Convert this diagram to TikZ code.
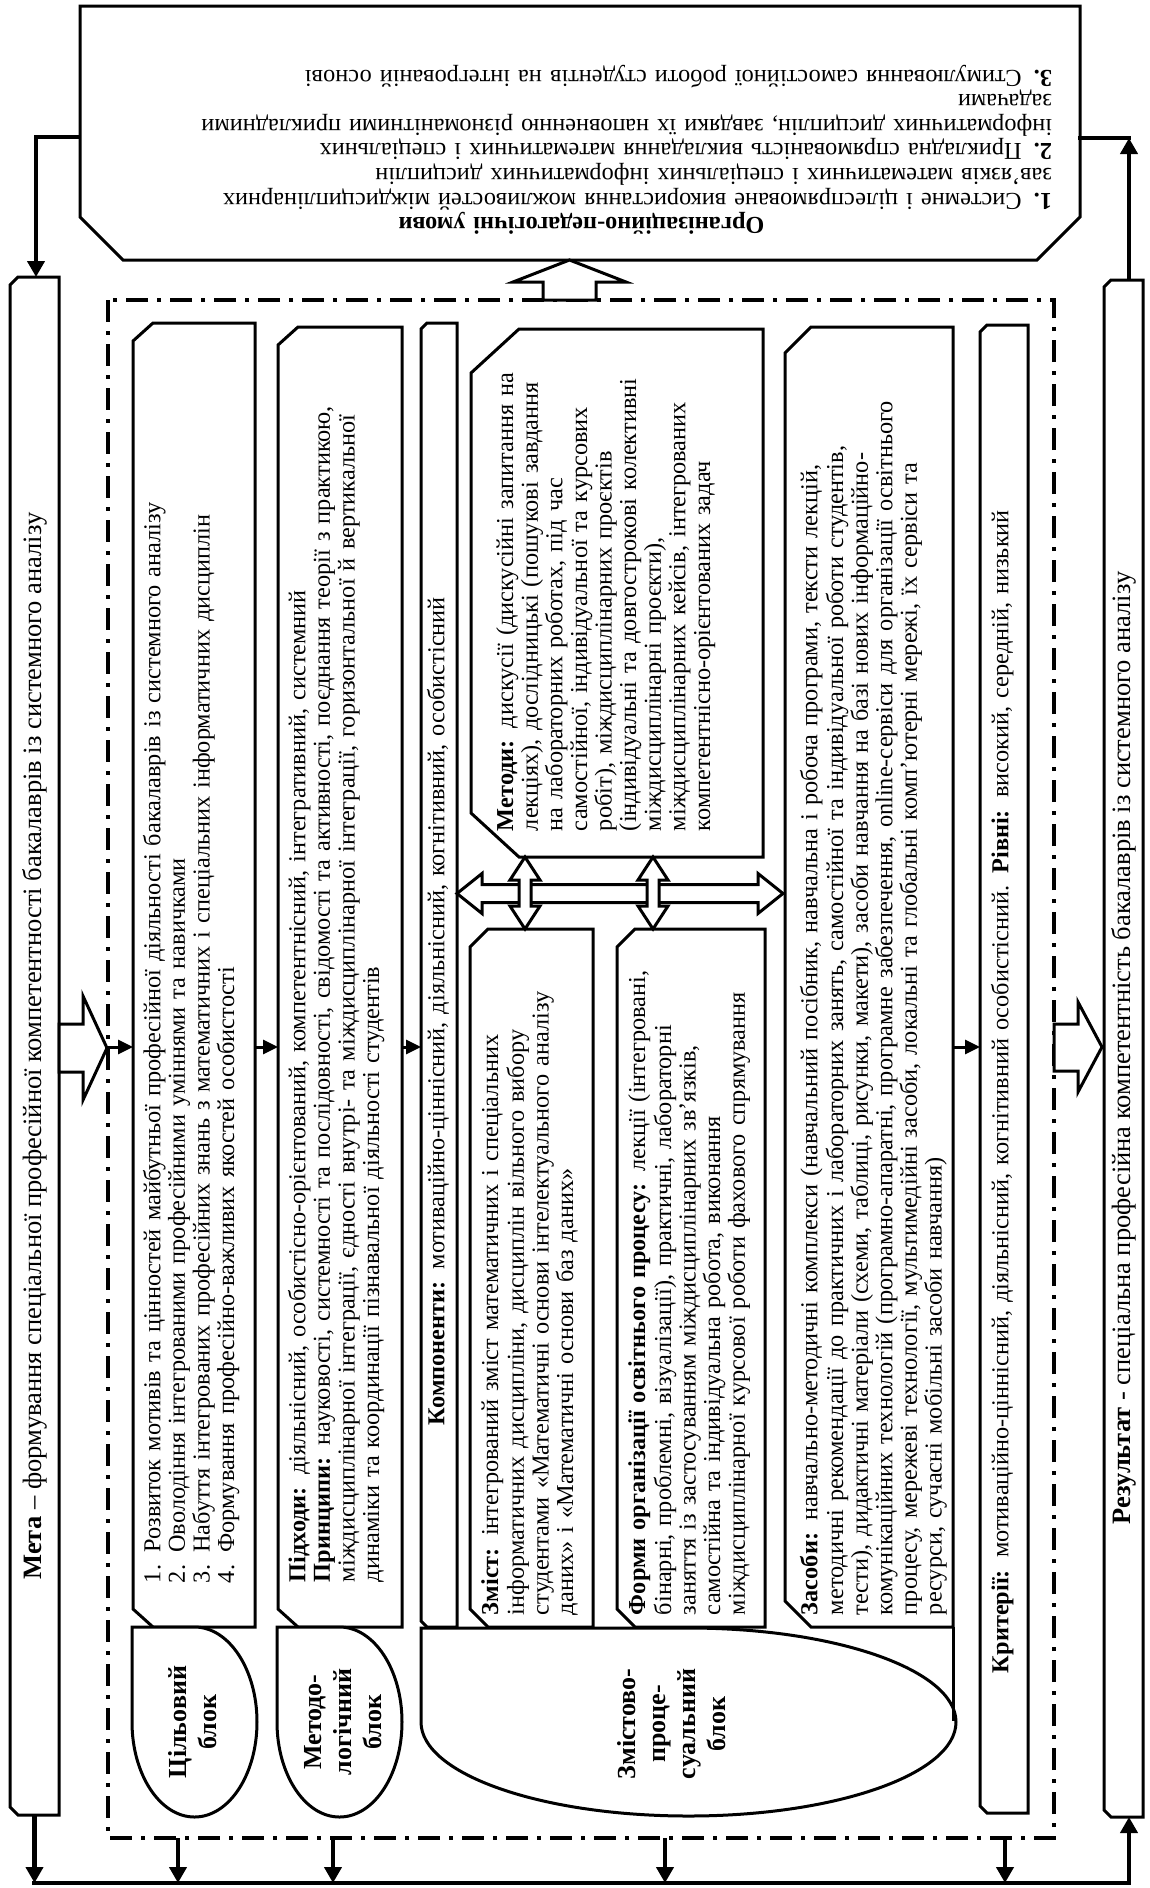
\documentclass[tikz,border=0pt]{standalone}
\usepackage{fontspec}
\setmainfont{Liberation Serif}
\usetikzlibrary{arrows.meta,fit}
\newcommand{\jline}[1]{\makebox[\hsize][s]{#1}\\}
\newcommand{\snipbox}[3]{\draw[bx] ([xshift=#2pt]#1.north west) -- (#1.north east) -- (#1.south east) -- ([xshift=#2pt]#1.south west) -- ([yshift=#3pt]#1.south west) -- ([yshift=-#3pt]#1.north west) -- cycle;}
\begin{document}
\begin{tikzpicture}[x=1pt,y=-1pt,
 bx/.style={draw, line width=3pt, fill=white, line join=miter},
 fr/.style={inner sep=0pt, outer sep=0pt},
 ddl/.style={line width=3.5pt, dash pattern=on 22pt off 9pt on 4pt off 9pt},
 arr/.style={line width=3pt, -{Triangle[length=15pt,width=14pt]}},
 link/.style={line width=4.5pt, line cap=rect},
 arrb/.style={line width=4.5pt, -{Triangle[length=16pt,width=17pt]}},
 hol/.style={draw, line width=3pt, fill=white, line join=miter},
 txt/.style={inner sep=0pt, outer sep=0pt, font=\fontsize{24.3}{24.6}\selectfont, align=left, anchor=north west, rotate=90},
 bar/.style={inner sep=0pt, font=\fontsize{26.5}{28}\selectfont, rotate=90},
 lbl/.style={inner sep=0pt, font=\fontsize{26}{30}\selectfont\bfseries, align=center, rotate=90}]
\fill[white] (0,0) rectangle (1149,1888);
\useasboundingbox (0,0) rectangle (1149,1888);

% frames
\node[fr, fit={(80,6) (1080,260)}] (cond) {};
\node[fr, fit={(10,277) (59,1815)}] (meta) {};
\node[fr, fit={(1104,280) (1143,1817)}] (res) {};
\node[fr, fit={(108,300) (1054,1838)}] (dd) {};
\node[fr, fit={(133,323) (255,1627)}] (goal) {};
\node[fr, fit={(278,327) (402,1627)}] (meth) {};
\node[fr, fit={(421,323) (457,1627)}] (comp) {};
\node[fr, fit={(471,329) (763,857)}] (metody) {};
\node[fr, fit={(470,929) (593,1627)}] (zmist) {};
\node[fr, fit={(617,929) (765,1627)}] (formy) {};
\node[fr, fit={(785,327) (953,1627)}] (zasoby) {};
\node[fr, fit={(980,325) (1028,1813)}] (kryt) {};

\draw[bx] (cond.north west) -- (cond.north east) -- ([yshift=43pt]cond.south east) -- ([xshift=-43pt]cond.south east) -- ([xshift=43pt]cond.south west) -- ([yshift=43pt]cond.south west) -- cycle;
\snipbox{meta}{8}{8}
\snipbox{res}{7}{7}
\draw[ddl] (dd.north west) rectangle (dd.south east);
\snipbox{goal}{20}{18}
\snipbox{meth}{20}{18}
\snipbox{comp}{6}{6}
\snipbox{metody}{48}{44}
\snipbox{zmist}{18}{18}
\snipbox{formy}{18}{18}
\snipbox{zasoby}{26}{26}
\snipbox{kryt}{7}{7}

% teardrops
\draw[bx] (132,1627) -- (194.5,1627) .. controls (229,1627) and (257,1669.5) .. (257,1722) .. controls (257,1774.5) and (229,1817) .. (194.5,1817) .. controls (160,1817) and (132,1774.5) .. (132,1722) -- cycle;
\draw[bx] (277,1627) -- (339.5,1627) .. controls (374,1627) and (402,1669.5) .. (402,1722) .. controls (402,1774.5) and (374,1817) .. (339.5,1817) .. controls (305,1817) and (277,1774.5) .. (277,1722) -- cycle;
\draw[bx] (421,1628) -- (688.5,1628) .. controls (836.2,1628) and (956,1670.1) .. (956,1722) .. controls (956,1773.9) and (836.2,1816) .. (688.5,1816) .. controls (540.8,1816) and (421,1773.9) .. (421,1722) -- cycle;
\draw[line width=3pt] (zasoby.south east) -- ++(0,94);

% hollow arrows
\draw[hol] (457,893.5) -- (482,873.5) -- (482,884.5) -- (758,884.5) -- (758,873.5) -- (783,893.5) -- (758,913.5) -- (758,902.5) -- (482,902.5) -- (482,913.5) -- cycle;
\draw[hol] (525,857) -- (540,880) -- (531,880) -- (531,906) -- (540,906) -- (525,929) -- (510,906) -- (519,906) -- (519,880) -- (510,880) -- cycle;
\draw[hol] (653,857) -- (668,880) -- (659,880) -- (659,906) -- (668,906) -- (653,929) -- (638,906) -- (647,906) -- (647,880) -- (638,880) -- cycle;
\draw[hol] (543,300) -- (543,282) -- (513,282) -- (569.5,260) -- (626,282) -- (596,282) -- (596,300) -- cycle;
\draw[hol] (59,1024) -- (83,1024) -- (83,996) -- (107,1048) -- (83,1100) -- (83,1072) -- (59,1072) -- cycle;
\draw[hol] (1054,1024) -- (1078,1024) -- (1078,1002) -- (1102,1047) -- (1078,1092) -- (1078,1071) -- (1054,1071) -- cycle;

% small arrows
\coordinate (ya) at (0,1047);
\draw[arr] (dd.west |- ya) -- (goal.west |- ya);
\draw[arr] (goal.east |- ya) -- (meth.west |- ya);
\draw[arr] (meth.east |- ya) -- (comp.west |- ya);
\draw[arr] (zasoby.east |- ya) -- (kryt.west |- ya);

% bottom links
\coordinate (bl) at (34.5,1883);
\coordinate (br) at (1129,1883);
\coordinate (b1) at (178,1883);
\coordinate (b2) at (333,1883);
\coordinate (b3) at (665,1883);
\coordinate (b4) at (1005,1883);
\draw[link] (bl) -- (br);
\draw[arrb] (meta.south) -- (meta.south |- bl);
\draw[arrb] (b1 |- dd.south) -- (b1);
\draw[arrb] (b2 |- dd.south) -- (b2);
\draw[arrb] (b3 |- dd.south) -- (b3);
\draw[arrb] (b4 |- dd.south) -- (b4);
\draw[arrb] (br) -- (br |- res.south);

% top links
\coordinate (tl) at (36,137);
\coordinate (tr) at (1129,138);
\draw[arrb] (cond.west |- tl) -- (tl) -- (tl |- meta.north);
\draw[arrb] (tr |- res.north) -- (tr);
\draw[link] (tr) -- (cond.east |- tr);

% texts
\node[bar] (metatxt) at (34.5,1046) {\textbf{Мета} – формування спеціальної професійної компетентності бакалаврів із системного аналізу};
\node[bar] (restxt) at (1123.5,1048) {\textbf{Результат} - спеціальна професійна компетентність бакалаврів із системного аналізу};

\node[inner sep=0pt, outer sep=0pt, font=\fontsize{24.3}{24.6}\selectfont, align=left, anchor=north west, rotate=180, text width=941pt] (condtext) at (1052,235) {%
\makebox[\hsize]{\strut\textbf{Організаційно-педагогічні умови}}\\
\jline{\textbf{1.} Системне і цілеспрямоване використання можливостей міждисциплінарних}
зав’язків математичних і спеціальних інформатичних дисциплін\\
\jline{\textbf{2.} Прикладна спрямованість викладання математичних і спеціальних}
\jline{інформатичних дисциплін, завдяки їх наповненню різноманітними прикладними}
задачами\\
\textbf{3.} Стимулювання самостійної роботи студентів на інтегрованій основі};

\node[txt, text width=1300pt] (goaltxt) at (143,1583) {\strut 1. Розвиток мотивів та цінностей майбутньої професійної діяльності бакалаврів із системного аналізу\\
2. Оволодіння інтегрованими професійними уміннями та навичками\\
3. Набуття інтегрованих професійних знань з математичних і спеціальних інформатичних дисциплін\\
4. Формування професійно-важливих якостей особистості};

\node[txt, text width=1243pt] (methtxt) at (288,1582) {\strut\textbf{Підходи:} діяльнісний, особистісно-орієнтований, компетентнісний, інтегративний, системний\\
\jline{\textbf{Принципи:} науковості, системності та послідовності, свідомості та активності, поєднання теорії з практикою,}
\jline{міждисциплінарної інтеграції, єдності внутрі- та міждисциплінарної інтеграції, горизонтальної й вертикальної}
динаміки та координації пізнавальної діяльності студентів};

\node[txt, text width=1200pt] (comptxt) at (427,1425) {\strut\textbf{Компоненти:} мотиваційно-ціннісний, діяльнісний, когнітивний, особистісний};

\node[txt, text width=482pt] (metodytxt) at (496,831) {%
\jline{\strut\textbf{Методи:} дискусії (дискусійні запитання на}
\jline{лекціях), дослідницькі (пошукові завдання}
\jline{на лабораторних роботах, під час}
\jline{самостійної, індивідуальної та курсових}
\jline{робіт), міждисциплінарних проєктів}
\jline{(індивідуальні та довгострокові колективні}
\jline{міждисциплінарні проєкти),}
\jline{міждисциплінарних кейсів, інтегрованих}
компетентнісно-орієнтованих задач};

\node[txt, text width=674pt] (zmisttxt) at (481,1615) {%
\jline{\strut\textbf{Зміст:} інтегрований зміст математичних і спеціальних}
\jline{інформатичних дисципліни, дисциплін вільного вибору}
\jline{студентами «Математичні основи інтелектуального аналізу}
даних» і «Математичні основи баз даних»};

\node[txt, text width=668pt] (formytxt) at (628,1615) {%
\jline{\strut\textbf{Форми організації освітнього процесу:} лекції (інтегровані,}
\jline{бінарні, проблемні, візуалізації), практичні, лабораторні}
\jline{заняття із застосуванням міждисциплінарних зв’язків,}
\jline{самостійна та індивідуальна робота, виконання}
міждисциплінарної курсової роботи фахового спрямування};

\node[txt, text width=1274pt] (zasobytxt) at (800,1615) {%
\jline{\strut\textbf{Засоби:} навчально-методичні комплекси (навчальний посібник, навчальна і робоча програми, тексти лекцій,}
\jline{методичні рекомендації до практичних і лабораторних занять, самостійної та індивідуальної роботи студентів,}
\jline{тести), дидактичні матеріали (схеми, таблиці, рисунки, макети), засоби навчання на базі нових інформаційно-}
\jline{комунікаційних технологій (програмно-апаратні, програмне забезпечення, online-сервіси для організації освітнього}
\jline{процесу, мережеві технології, мультимедійні засоби, локальні та глобальні комп’ютерні мережі, їх сервіси та}
ресурси, сучасні мобільні засоби навчання)};

\node[txt, text width=1300pt] (kryttxt) at (991,1673) {\strut\textbf{Критерії:} мотиваційно-ціннісний, діяльнісний, когнітивний особистісний. \textbf{Рівні:} високий, середній, низький};

\node[lbl] (l1) at (193,1722) {Цільовий\\блок};
\node[lbl] (l2) at (343,1722) {Методо-\\логічний\\блок};
\node[lbl] (l3) at (672,1724) {Змістово-\\проце-\\суальний\\блок};
\end{tikzpicture}
\end{document}
